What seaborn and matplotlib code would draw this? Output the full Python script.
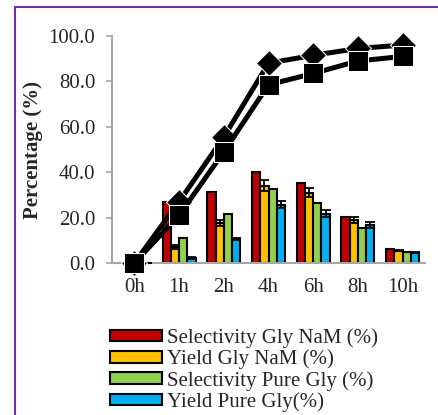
import numpy as np
import pandas as pd
import matplotlib
matplotlib.use('Agg')
import matplotlib.pyplot as plt
from matplotlib.patches import Rectangle
import seaborn as sns

# 데이터
times = ['0h', '1h', '2h', '4h', '6h', '8h', '10h']
series = ['Selectivity Gly NaM (%)', 'Yield Gly NaM (%)',
          'Selectivity Pure Gly (%)', 'Yield Pure Gly(%)']
sel_naM = [0.0, 27.0, 31.3, 40.2, 35.4, 20.4, 6.1]
yield_naM = [0.0, 7.0, 17.6, 34.0, 31.0, 19.0, 5.4]
sel_pure = [0.0, 11.0, 21.6, 32.6, 26.6, 15.4, 4.8]
yield_pure = [0.0, 2.2, 10.6, 25.6, 21.8, 16.8, 4.5]
err_yield_naM = [0.0, 0.8, 1.2, 2.5, 2.0, 1.2, 0.3]
err_yield_pure = [0.0, 0.3, 0.6, 1.5, 1.5, 1.2, 0.3]
conv_diamond = [0.0, 27.0, 55.5, 88.0, 91.5, 94.5, 96.0]
conv_square = [0.0, 21.0, 49.0, 78.5, 83.5, 89.0, 91.0]

colors = ['#C00000', '#FFC000', '#92D050', '#00B0F0']

df = pd.DataFrame({
    'time': times * 4,
    'series': np.repeat(series, len(times)),
    'value': sel_naM + yield_naM + sel_pure + yield_pure,
})

sns.set_style('white')
plt.rcParams['font.family'] = ['Liberation Serif', 'DejaVu Serif']

fig = plt.figure(figsize=(4.38, 4.15), dpi=100)
ax = fig.add_axes([112 / 438, 1 - 263 / 415, 313 / 438, 227 / 415])

sns.barplot(data=df, x='time', y='value', hue='series', palette=colors,
            saturation=1, width=0.74, edgecolor='black', linewidth=1.5,
            ax=ax, legend=True)

# 에러바 (노란색, 파란색)
for idx, errs in [(1, err_yield_naM), (3, err_yield_pure)]:
    cont = ax.containers[idx]
    xs = [p.get_x() + p.get_width() / 2 for p in cont.patches]
    hs = [p.get_height() for p in cont.patches]
    ax.errorbar(xs, hs, yerr=errs, fmt='none', ecolor='black',
                elinewidth=1.3, capsize=3.5, capthick=1.3, zorder=4)

xpos = np.arange(len(times))
sns.lineplot(x=xpos, y=conv_diamond, color='black', marker='D',
             markersize=13, linewidth=3.6, ax=ax, zorder=5, clip_on=False)
sns.lineplot(x=xpos, y=conv_square, color='black', marker='s',
             markersize=15, linewidth=3.6, ax=ax, zorder=6, clip_on=False)

ax.set_ylim(0, 100)
ax.set_xlim(-0.5, 6.5)
ax.set_yticks([0, 20, 40, 60, 80, 100])
ax.set_yticklabels(['0.0', '20.0', '40.0', '60.0', '80.0', '100.0'])
ax.set_xticks(xpos)
ax.set_xticklabels(times)
ax.set_xticks(np.arange(-0.5, 7, 1), minor=True)
ax.tick_params(axis='x', which='major', length=0, pad=11, labelsize=15)
ax.tick_params(axis='x', which='minor', length=5, width=1.2, color='#A6A6A6',
               direction='out')
ax.tick_params(axis='y', length=4, width=1.2, color='#A6A6A6', direction='out',
               pad=8, labelsize=15, left=True)

for s in ['top', 'right']:
    ax.spines[s].set_visible(False)
for s in ['left', 'bottom']:
    ax.spines[s].set_color('#A6A6A6')
    ax.spines[s].set_linewidth(1.5)

ax.set_xlabel('')
ax.set_ylabel('Percentage (%)', fontsize=15, fontweight='bold', labelpad=4)

handles, labels = ax.get_legend_handles_labels()
ax.legend(handles[:4], labels[:4], loc='upper left',
          bbox_to_anchor=(110 / 438, 1 - 328 / 415), bbox_transform=fig.transFigure,
          frameon=False, fontsize=15, handlelength=2.5, handleheight=0.48,
          handletextpad=0.25, labelspacing=0.08, borderaxespad=0, borderpad=0)

fig.add_artist(Rectangle((15 / 438, -0.05), 1.0, 1.05 - 7 / 415,
                         transform=fig.transFigure, fill=False,
                         edgecolor='#7030A0', linewidth=1.5))

fig.savefig('out.png', dpi=100)
